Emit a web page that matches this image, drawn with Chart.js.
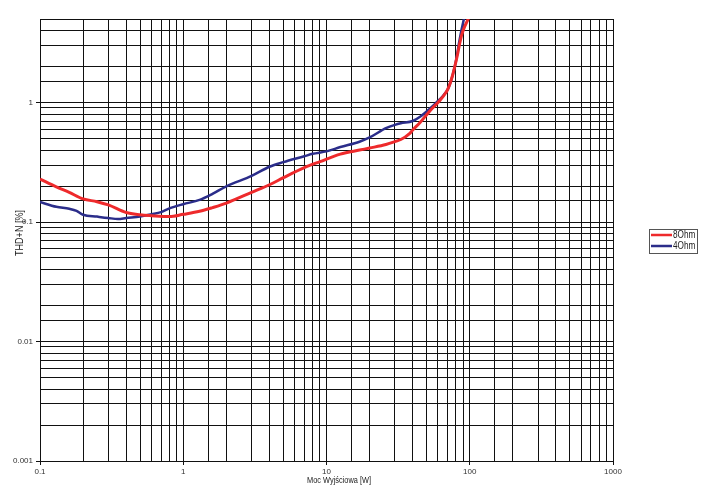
<!DOCTYPE html>
<html>
<head>
<meta charset="utf-8">
<script src="https://cdn.jsdelivr.net/npm/chart.js@4/dist/chart.umd.min.js"></script>
<style>
  html, body { margin: 0; padding: 0; background: #fff; }
  #wrap { width: 705px; height: 486px; position: relative; }
</style>
</head>
<body>
<div id="wrap"><canvas id="c" width="705" height="486"></canvas></div>
<script>
// ---- data ----
const seriesNames = ['8Ohm', '4Ohm'];
const power8 = [0.1, 0.13, 0.16, 0.2, 0.25, 0.3, 0.4, 0.5, 0.6, 0.8, 1, 1.3, 1.6, 2, 3, 4, 5, 7, 9, 12.5, 17, 20, 26, 30, 33, 38, 40, 45, 50, 55, 60, 63, 66, 70, 73, 76, 79, 82, 85, 88, 92, 96, 99];
const thd8   = [0.229, 0.197, 0.177, 0.156, 0.148, 0.139, 0.120, 0.115, 0.113, 0.111, 0.116, 0.123, 0.132, 0.144, 0.177, 0.205, 0.235, 0.285, 0.32, 0.37, 0.40, 0.416, 0.445, 0.47, 0.49, 0.55, 0.59, 0.68, 0.79, 0.90, 1.0, 1.07, 1.15, 1.28, 1.45, 1.7, 2.05, 2.5, 3.1, 3.7, 4.3, 4.8, 5.2];
const power4 = [0.1, 0.13, 0.16, 0.18, 0.2, 0.25, 0.3, 0.35, 0.4, 0.5, 0.6, 0.7, 0.8, 1, 1.3, 1.6, 2, 3, 4, 5, 7, 8, 10, 12.5, 17, 20, 26, 30, 33, 40, 45, 50, 55, 60, 63, 66, 70, 73, 76, 79, 82, 84, 87, 90, 92];
const thd4   = [0.147, 0.134, 0.129, 0.124, 0.115, 0.111, 0.108, 0.106, 0.108, 0.111, 0.116, 0.121, 0.13, 0.141, 0.153, 0.172, 0.199, 0.243, 0.29, 0.317, 0.355, 0.372, 0.39, 0.424, 0.47, 0.51, 0.61, 0.65, 0.67, 0.70, 0.76, 0.84, 0.93, 1.03, 1.09, 1.16, 1.28, 1.45, 1.7, 2.05, 2.6, 3.1, 3.9, 4.7, 5.3];
const xTickLabels = ['0.1', '1', '10', '100', '1000'];
const yTickLabels = ['0.001', '0.01', '0.1', '1'];
const xTitle = 'Moc Wyjściowa [W]';
const yTitle = 'THD+N [%]';
const colors = ['#ee2a2c', '#2b2d8a'];

const FONT = "'Liberation Sans', Arial, sans-serif";

function isDecade(v) {
  const l = Math.log10(v);
  return Math.abs(l - Math.round(l)) < 1e-9;
}
function labelFor(v, list) {
  if (!isDecade(v)) return '';
  const e = Math.round(Math.log10(v));
  const found = list.find(s => Math.abs(Math.log10(parseFloat(s)) - e) < 1e-9);
  return found || '';
}
const tickColorFn = (ctx) => (ctx.tick && isDecade(ctx.tick.value)) ? '#111' : 'rgba(0,0,0,0)';

// draw narrow (condensed) text by scaling a regular face horizontally
function narrowText(ctx, text, x, y, size, align) {
  ctx.save();
  ctx.translate(x, y);
  ctx.scale(0.82, 1);
  ctx.font = size + 'px ' + FONT;
  ctx.textAlign = align;
  ctx.textBaseline = 'middle';
  ctx.fillText(text, 0, 0);
  ctx.restore();
}

const titlesAndLegend = {
  id: 'titlesAndLegend',
  afterDraw(chart) {
    const ctx = chart.ctx;
    ctx.save();
    ctx.fillStyle = '#222';
    narrowText(ctx, xTitle, 339, 480.5, 9, 'center');
    ctx.save();
    ctx.translate(20, 233);
    ctx.rotate(-Math.PI / 2);
    narrowText(ctx, yTitle, 0, 0, 11, 'center');
    ctx.restore();
    // legend box
    const bx = 649.5, by = 229.5, bw = 48, bh = 24;
    ctx.strokeStyle = '#555';
    ctx.lineWidth = 1;
    ctx.strokeRect(bx, by, bw, bh);
    chart.data.datasets.forEach((ds, i) => {
      const y = 235 + i * 11;
      ctx.strokeStyle = ds.borderColor;
      ctx.lineWidth = 2.5;
      ctx.beginPath();
      ctx.moveTo(651, y);
      ctx.lineTo(672, y);
      ctx.stroke();
      ctx.fillStyle = '#222';
      narrowText(ctx, ds.label, 673, y + 0.5, 10, 'left');
    });
    ctx.restore();
  }
};

new Chart(document.getElementById('c'), {
  type: 'line',
  data: {
    datasets: [
      {
        label: seriesNames[0],
        data: power8.map((p, i) => ({ x: p, y: thd8[i] })),
        borderColor: colors[0],
        borderWidth: 3,
        pointRadius: 0,
        cubicInterpolationMode: 'monotone',
        fill: false
      },
      {
        label: seriesNames[1],
        data: power4.map((p, i) => ({ x: p, y: thd4[i] })),
        borderColor: colors[1],
        borderWidth: 2.5,
        pointRadius: 0,
        cubicInterpolationMode: 'monotone',
        fill: false
      }
    ]
  },
  options: {
    responsive: false,
    animation: false,
    events: [],
    layout: { padding: { top: 19, right: 92, bottom: 0, left: 0 } },
    plugins: {
      legend: { display: false },
      tooltip: { enabled: false },
      title: { display: false }
    },
    scales: {
      x: {
        type: 'logarithmic',
        min: 0.1,
        max: 1000,
        afterFit(scale) { scale.height = 25; },
        grid: { color: '#111', lineWidth: 1, tickLength: 4, tickColor: tickColorFn },
        border: { color: '#111', width: 1 },
        ticks: {
          autoSkip: false,
          maxRotation: 0,
          padding: 2,
          color: '#333',
          font: { family: FONT, size: 8 },
          callback(v) { return labelFor(v, xTickLabels); }
        }
      },
      y: {
        type: 'logarithmic',
        min: 0.001,
        max: 5,
        afterFit(scale) { scale.width = 40; },
        grid: { color: '#111', lineWidth: 1, tickLength: 4, tickColor: tickColorFn },
        border: { color: '#111', width: 1 },
        ticks: {
          autoSkip: false,
          padding: 3,
          color: '#333',
          font: { family: FONT, size: 8 },
          callback(v) { return labelFor(v, yTickLabels); }
        }
      }
    }
  },
  plugins: [titlesAndLegend]
});
</script>
</body>
</html>
